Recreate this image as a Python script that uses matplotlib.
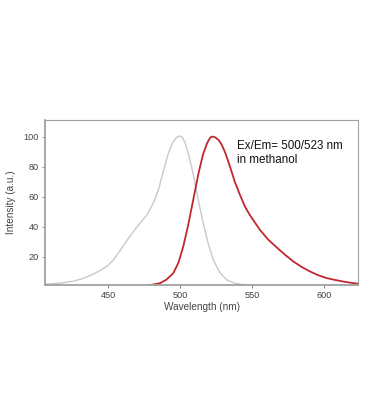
import matplotlib
matplotlib.use("Agg")
import matplotlib.pyplot as plt

ex_nm = [406, 416.7, 425.9, 431.6, 437.5, 444, 450, 454, 458.5, 463, 467.6, 472, 476.9, 479.5, 482.6, 485.5, 488.5, 492, 495, 497.5, 499.5, 501.5, 503.5, 506, 508.5, 511, 513.5, 516.2, 519.5, 523.1, 527.5, 532.4, 538, 544, 550, 557.7]
ex_int = [1.5, 2.2, 3.6, 5.0, 7.2, 10.3, 14, 18, 24, 30.5, 36.5, 42, 47.5, 52, 58, 66, 77, 89, 96, 99.3, 100.4, 99.5, 96, 88, 78, 66, 54, 42, 29, 17.8, 9.5, 4.5, 2.2, 1.2, 0.7, 0.5]

em_nm = [476.9, 481, 486.1, 490.5, 495.4, 499, 502.3, 505.5, 508, 510.5, 513, 516, 518.8, 521, 522.5, 524.5, 527, 529, 531.5, 534.7, 538, 541.7, 545, 548.6, 555.5, 561, 567, 572.5, 578.7, 584.5, 590.3, 596, 601.9, 607.5, 613.4, 618.5, 623.8]
em_int = [0.7, 1.2, 2.2, 4.5, 8.9, 16, 26.7, 40, 52, 64, 76, 88, 95.5, 99.3, 100, 99.4, 97.5, 94.5, 89, 80, 70, 61, 53.5, 47.5, 37.8, 31.5, 26.2, 21.5, 16.7, 13, 10, 7.5, 5.6, 4.4, 3.3, 2.5, 1.8]

x_ticks = [450, 500, 550, 600]
y_ticks = [20, 40, 60, 80, 100]
annotation = "Ex/Em= 500/523 nm\nin methanol"

plt.rcParams['font.family'] = ['Liberation Sans', 'DejaVu Sans']

fig = plt.figure(figsize=(3.7, 4.2), dpi=100)
ax = fig.add_axes([45/370, (420-285)/420, (358-45)/370, (285-120)/420])

ax.plot(ex_nm, ex_int, color='#c9c9c9', lw=1.0, solid_capstyle='round', solid_joinstyle='round')
ax.plot(em_nm, em_int, color='#c1272d', lw=1.3, solid_capstyle='round', solid_joinstyle='round')

ax.set_xlim(406.3, 623.6)
ax.set_ylim(1.0, 111)
ax.set_xticks(x_ticks)
ax.set_yticks(y_ticks)

for s in ax.spines.values():
    s.set_color('#a0a0a0')
    s.set_linewidth(0.8)
ax.spines['bottom'].set_linewidth(1.3)
ax.spines['left'].set_linewidth(1.3)

ax.tick_params(axis='both', direction='out', length=2.5, width=0.7,
               color='#888888', labelsize=6.6, labelcolor='#444444', pad=2)

ax.set_xlabel('Wavelength (nm)', fontsize=7.2, color='#444444', labelpad=1)
ax.set_ylabel('Intensity (a.u.)', fontsize=7.2, color='#444444', labelpad=5)

ax.text(539.8, 97.5, annotation, fontsize=8.4, color='#111111',
        va='top', ha='left', linespacing=1.2)

fig.savefig('out.png', dpi=100)
